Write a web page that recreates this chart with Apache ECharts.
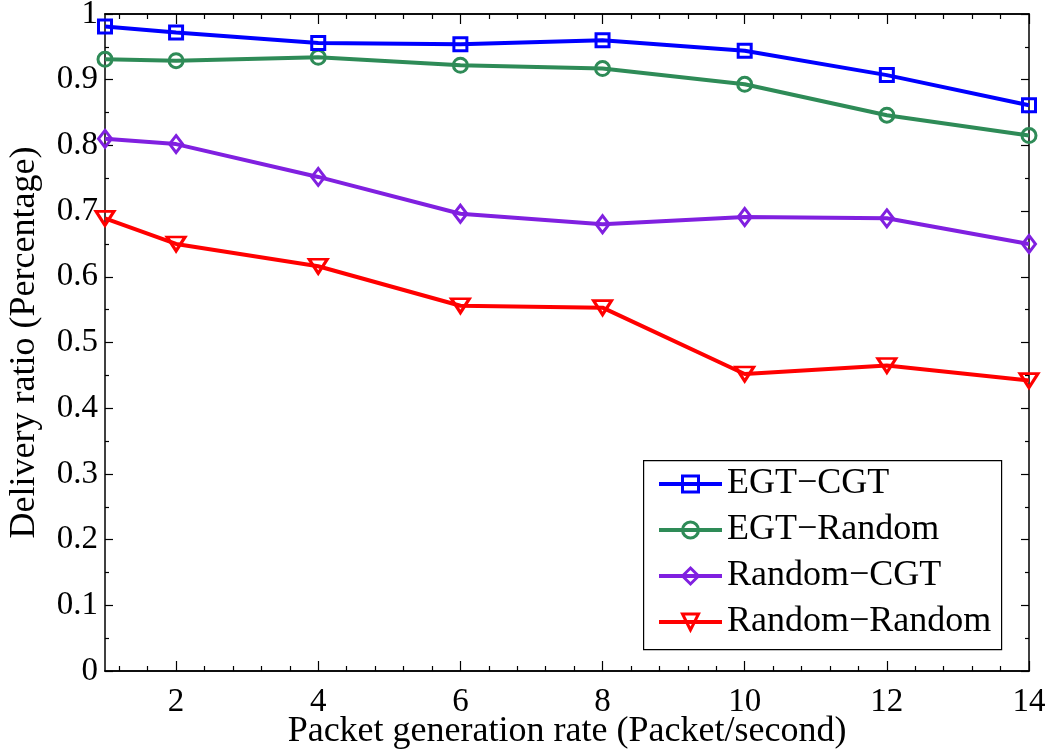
<!DOCTYPE html>
<html>
<head>
<meta charset="utf-8">
<script src="https://cdn.jsdelivr.net/npm/echarts@6/dist/echarts.min.js"></script>
<style>
  html, body { margin: 0; padding: 0; background: #fff; }
  #chart { width: 1053px; height: 751px; }
</style>
</head>
<body>
<div id="chart"></div>
<script>
// Packet generation rates (x values)
const rates = [1, 2, 4, 6, 8, 10, 12, 14];

// Delivery ratios per strategy pairing
const egtCgt       = [0.981, 0.972, 0.956, 0.954, 0.960, 0.944, 0.907, 0.861];
const egtRandom    = [0.931, 0.929, 0.934, 0.922, 0.917, 0.893, 0.846, 0.815];
const randomCgt    = [0.810, 0.802, 0.752, 0.696, 0.680, 0.691, 0.689, 0.650];
const randomRandom = [0.689, 0.650, 0.616, 0.556, 0.553, 0.452, 0.465, 0.442];

const seriesNames = ['EGT\u2212CGT', 'EGT\u2212Random', 'Random\u2212CGT', 'Random\u2212Random'];

// Tick positions on the x axis
const xMajorTicks = [2, 4, 6, 8, 10, 12, 14];
const xMinorTicks = [1.2, 1.6, 2.4, 2.8, 3.2, 3.6, 4.4, 4.8, 5.2, 5.6, 6.4, 6.8, 7.2, 7.6,
                     8.4, 8.8, 9.2, 9.6, 10.4, 10.8, 11.2, 11.6, 12.4, 12.8, 13.2, 13.6];

const FONT = 'Liberation Serif';
const colors = ['#0000FF', '#2E8B57', '#8020E0', '#FF0000'];
const symbols = ['rect', 'circle', 'diamond', 'triangle'];
const symbolSizes = [13, 14, [13, 17], [18, 14]];
const symbolRotates = [0, 0, 0, 180];
const valueSets = [egtCgt, egtRandom, randomCgt, randomRandom];

function pairs(vals) {
  return rates.map((x, i) => [x, vals[i]]);
}

const axisLineStyle = { color: '#000', width: 1.5 };

function xAxisDef(pos, ticks, len, withLabels) {
  return {
    type: 'value', position: pos, min: 1, max: 14, gridIndex: 0,
    axisLine: { show: true, onZero: false, lineStyle: axisLineStyle },
    axisTick: { show: true, inside: true, length: len, customValues: ticks,
                lineStyle: { color: '#000', width: 1.2 } },
    axisLabel: withLabels ? {
      show: true, customValues: xMajorTicks, margin: 15,
      fontFamily: FONT, fontSize: 33, color: '#000'
    } : { show: false },
    splitLine: { show: false },
    name: withLabels ? 'Packet generation rate (Packet/second)' : '',
    nameLocation: 'middle', nameGap: 43, nameMoveOverlap: false,
    nameTextStyle: { fontFamily: FONT, fontSize: 36, color: '#000' }
  };
}

function yAxisDef(pos, withLabels) {
  return {
    type: 'value', position: pos, min: 0, max: 1, interval: 0.1, gridIndex: 0,
    axisLine: { show: true, onZero: false, lineStyle: axisLineStyle },
    axisTick: { show: true, inside: true, length: 8, lineStyle: { color: '#000', width: 1.2 } },
    minorTick: { show: true, splitNumber: 2, length: 4, lineStyle: { color: '#000', width: 1.2 } },
    axisLabel: withLabels ? {
      show: true, margin: 7, fontFamily: FONT, fontSize: 33, color: '#000'
    } : { show: false },
    splitLine: { show: false },
    minorSplitLine: { show: false },
    name: withLabels ? 'Delivery ratio (Percentage)' : '',
    nameLocation: 'middle', nameGap: 62, nameMoveOverlap: false,
    nameTextStyle: { fontFamily: FONT, fontSize: 36, color: '#000' }
  };
}

const chart = echarts.init(document.getElementById('chart'), null, { renderer: 'canvas' });

chart.setOption({
  backgroundColor: '#fff',
  animation: false,
  grid: { left: 105, right: 24, top: 14, bottom: 80, containLabel: false, outerBoundsMode: 'none' },
  xAxis: [
    xAxisDef('bottom', xMajorTicks, 10, true),
    xAxisDef('bottom', xMinorTicks, 5, false),
    xAxisDef('top', xMajorTicks, 10, false),
    xAxisDef('top', xMinorTicks, 5, false)
  ],
  yAxis: [
    yAxisDef('left', true),
    yAxisDef('right', false)
  ],
  // Legend frame
  graphic: [{
    type: 'rect', left: 643, top: 460, z: 90,
    shape: { width: 358, height: 189 },
    style: { fill: '#fff', stroke: '#000', lineWidth: 1.2 }
  }],
  legend: {
    orient: 'vertical',
    left: 643, top: 460, z: 100,
    padding: [4, 9, 6, 14],
    itemWidth: 63, itemHeight: 20, itemGap: 6,
    lineStyle: { width: 4 },
    itemStyle: { borderWidth: 3 },
    textStyle: { fontFamily: FONT, fontSize: 36, color: '#000', lineHeight: 40 },
    data: seriesNames
  },
  series: valueSets.map((vals, i) => ({
    name: seriesNames[i],
    type: 'line',
    xAxisIndex: 0, yAxisIndex: 0,
    data: pairs(vals),
    symbol: symbols[i],
    symbolSize: symbolSizes[i],
    symbolRotate: symbolRotates[i],
    showAllSymbol: true,
    clip: false,
    lineStyle: { color: colors[i], width: 4 },
    itemStyle: { color: 'rgba(0,0,0,0)', borderColor: colors[i], borderWidth: 3 },
    emphasis: { disabled: true },
    z: 10 - i
  }))
});
</script>
</body>
</html>
